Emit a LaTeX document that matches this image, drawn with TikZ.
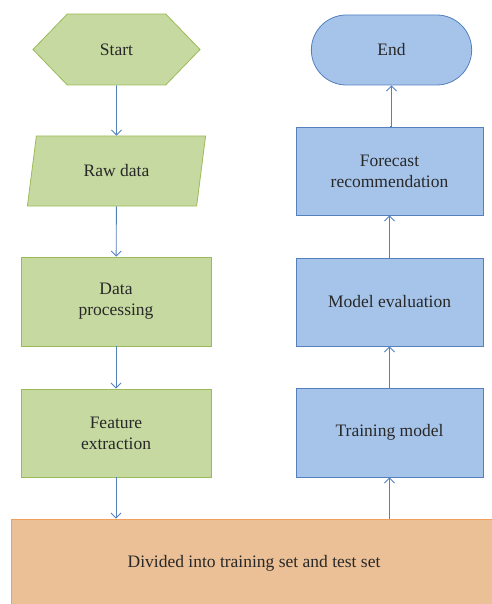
\documentclass[tikz,border=0pt]{standalone}
\usepackage{fontspec}
\setmainfont{Liberation Serif}
\usetikzlibrary{positioning, arrows.meta, shapes.geometric, shapes.misc, shapes.symbols}

\definecolor{greenfill}{RGB}{198,217,160}
\definecolor{greenline}{RGB}{155,187,89}
\definecolor{bluefill}{RGB}{166,196,234}
\definecolor{blueline}{RGB}{84,128,190}
\definecolor{orangefill}{RGB}{235,192,150}
\definecolor{orangeline}{RGB}{240,160,90}
\definecolor{textgray}{RGB}{40,40,40}

\begin{document}
\begin{tikzpicture}[
    x=1pt, y=1pt,
    every node/.style={text=textgray, font=\fontsize{17.5}{21}\selectfont, align=center},
    greenbox/.style={draw=greenline, fill=greenfill, line width=0.8pt},
    bluebox/.style={draw=blueline, fill=bluefill, line width=0.8pt},
    flow/.style={draw=blueline, line width=0.9pt, -{Straight Barb[length=5pt, width=10pt]}}
]
    \useasboundingbox (0,0) rectangle (491,-604);

    % left column
    \node[
        greenbox,
        signal,
        signal to=west and east,
        signal pointer angle=92,
        minimum width=167pt,
        minimum height=71pt,
        inner sep=0pt
    ] (start) at (116.5,-49.5) {Start};
    \node[
        greenbox,
        trapezium,
        trapezium stretches=true,
        trapezium left angle=78,
        trapezium right angle=102,
        minimum width=179pt,
        minimum height=70pt
    ] (raw) at (116.5,-171) {Raw data};
    \node[greenbox, rectangle, minimum width=190pt, minimum height=89pt] (proc) at (116,-301.5) {Data\\processing};
    \node[greenbox, rectangle, minimum width=190pt, minimum height=88pt] (feat) at (116,-433) {Feature\\extraction};

    % bottom bar
    \node[
        draw=orangeline,
        fill=orangefill,
        line width=0.8pt,
        rectangle,
        minimum width=500pt,
        minimum height=94pt
    ] (split) at (261,-566) {};
    \node (splittext) at (254,-563) {Divided into training set and test set};

    % right column
    \node[bluebox, rectangle, minimum width=187pt, minimum height=89pt] (train) at (389.5,-432.5) {Training model};
    \node[bluebox, rectangle, minimum width=187pt, minimum height=88pt] (eval) at (389.5,-302) {Model evaluation};
    \node[bluebox, rectangle, minimum width=187pt, minimum height=88pt] (forecast) at (389.5,-171) {Forecast\\recommendation};
    \node[
        bluebox,
        rounded rectangle,
        minimum width=167pt,
        minimum height=70pt
    ] (end) at (391.5,-50) {End};

    % connectors
    \draw[flow] (start) -- (raw);
    \draw[flow] (raw) -- (proc);
    \draw[flow] (proc) -- (feat);
    \draw[flow] (feat.south) -- (feat.south |- split.north);
    \draw[flow] (split.north -| train.south) -- (train.south);
    \draw[flow] (train) -- (eval);
    \draw[flow] (eval) -- (forecast);
    \draw[flow] (forecast.north) -- (forecast.north -| end.south) -- (end.south);
\end{tikzpicture}
\end{document}
